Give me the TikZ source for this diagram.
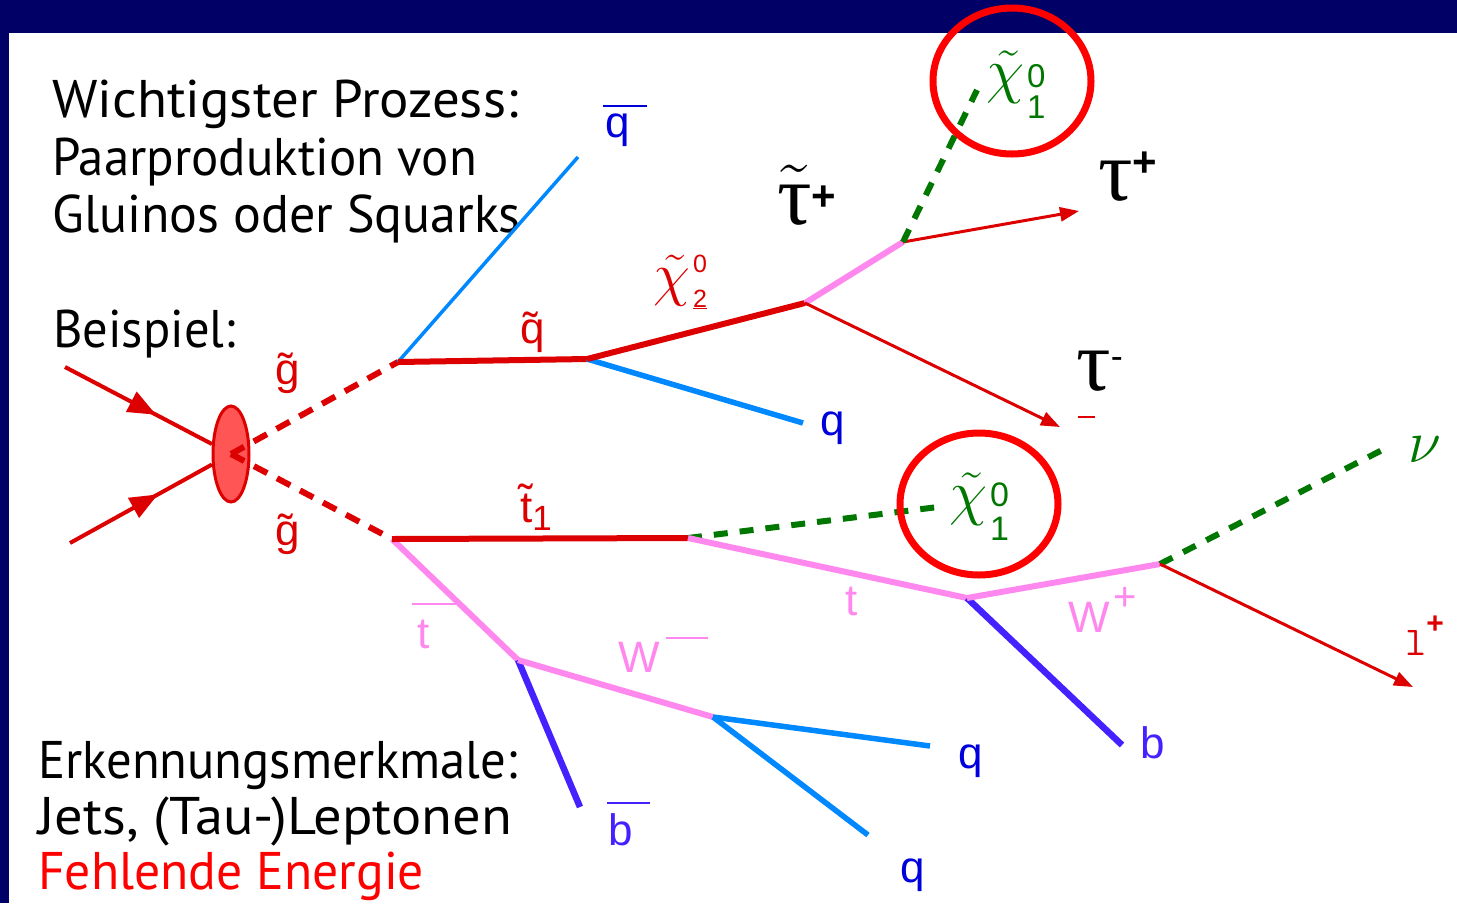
\documentclass[tikz,border=0pt]{standalone}
\usepackage{fix-cm}
\usepackage{graphicx}
\usepackage{fontspec}
\setmainfont{PT Sans}
\newfontfamily\lblfont{Liberation Sans}
\newfontfamily\grkfont{Liberation Serif}
\usetikzlibrary{positioning,arrows.meta,shapes.geometric,decorations.markings}

\definecolor{navy}{RGB}{0,0,102}
\definecolor{sred}{RGB}{221,0,0}
\definecolor{blobred}{RGB}{255,85,85}
\definecolor{jetblue}{RGB}{0,136,255}
\definecolor{bviolet}{RGB}{68,34,255}
\definecolor{lblblue}{RGB}{0,0,221}
\definecolor{spink}{RGB}{255,136,238}
\definecolor{sgreen}{RGB}{0,119,0}

% neutralino label: sup, sub, digit size, raise sup, raise sub
\newcommand{\neut}[5]{$\tilde{\chi}$\hspace{3pt}\makebox[0pt][l]{\raisebox{#4}{\fontsize{#3}{#3}\selectfont #1}}\raisebox{#5}{\fontsize{#3}{#3}\selectfont #2}}
% bar over a label: shift, raise, width
\newcommand{\barover}[3]{\makebox[0pt][l]{\hspace*{#1}\rule[#2]{#3}{2.5pt}}}
\newcommand{\sizedraise}[3]{\raisebox{#2}{\fontsize{#1}{#1}\selectfont #3}}

\begin{document}
\begin{tikzpicture}[x=1pt,y=-1pt,>=Triangle,
    sparton/.style={line width=6pt, draw=sred},
    thinarr/.style={line width=3pt, draw=sred, -{Triangle[length=19pt,width=14pt]}},
    incoming/.style={line width=4pt, draw=sred, postaction={decorate},
      decoration={markings, mark=at position 0.62 with {\arrow{Triangle[length=28pt,width=22pt]}}}},
    gluino/.style={line width=6pt, draw=sred, dash pattern=on 15pt off 11pt},
    invis/.style={line width=6pt, draw=sgreen, dash pattern=on 14pt off 12pt},
    jet/.style={line width=5.5pt, draw=jetblue},
    bjet/.style={line width=6.5pt, draw=bviolet},
    boson/.style={line width=6pt, draw=spink},
    lbl/.style={inner sep=0pt, anchor=base west, font=\fontsize{44}{44}\selectfont\lblfont},
    bigsym/.style={inner sep=0pt, anchor=base west, font=\fontsize{86}{86}\selectfont\grkfont},
    txt/.style={inner sep=0pt, anchor=base west, font=\fontsize{53}{58}\selectfont},
    ring/.style={ellipse, draw=red, line width=7pt, inner sep=0pt}]

    % frame
    \fill[navy] (0,0) rectangle (1457,903);
    \fill[white] (9,33) rectangle (1457,903);
    \useasboundingbox (0,0) rectangle (1457,903);

    % text
    \node[txt] (head1) at (52,117) {\scalebox{1.036}[1]{Wichtigster Prozess:}};
    \node[txt] (head2) at (52,175) {\scalebox{0.961}[1]{Paarproduktion von}};
    \node[txt] (head3) at (52,232) {\scalebox{0.981}[1]{Gluinos oder Squarks}};
    \node[txt] (ex) at (53,347) {\scalebox{0.953}[1]{Beispiel:}};
    \node[txt] (sig1) at (38,778) {\scalebox{0.956}[1]{Erkennungsmerkmale:}};
    \node[txt] (sig2) at (38,834) {\scalebox{1.065}[1]{Jets, (Tau-)Leptonen}};
    \node[txt, text=red] (sig3) at (38,889) {\scalebox{0.974}[1]{Fehlende Energie}};

    % vertices
    \coordinate (vsq) at (398,362);
    \coordinate (vchi) at (587,359);
    \coordinate (vstau) at (805,303);
    \coordinate (vtau) at (903,242);
    \coordinate (vst) at (392,539);
    \coordinate (vt) at (688,538);
    \coordinate (vtbar) at (518,660);
    \coordinate (vwm) at (713,717);
    \coordinate (vb) at (967,598);
    \coordinate (vwp) at (1160,564);
    % free ends
    \coordinate (pa) at (65,367);
    \coordinate (pb) at (70,543);
    \coordinate (eqbar) at (578,157);
    \coordinate (eq) at (803,423);
    \coordinate (etaup) at (1079,211);
    \coordinate (etaum) at (1060,427);
    \coordinate (elsp) at (977,90);
    \coordinate (elsp2) at (938,507);
    \coordinate (ebbar) at (580,807);
    \coordinate (eq1) at (930,746);
    \coordinate (eq2) at (868,835);
    \coordinate (eb) at (1122,745);
    \coordinate (enu) at (1390,446);
    \coordinate (elep) at (1413,687);

    % incoming protons and blob
    \node[ellipse, draw=sred, fill=blobred, line width=3pt, minimum width=36pt,
      minimum height=96pt, inner sep=0pt] (blob) at (231,454) {};
    \draw[incoming] (pa) -- (blob);
    \draw[incoming] (pb) -- (blob);
    \draw[gluino] (blob.center) -- (vsq);
    \draw[gluino] (blob.center) -- (vst);

    % upper branch
    \draw[line width=3.5pt, draw=jetblue] (vsq) -- (eqbar);
    \draw[sparton] (vsq) -- (vchi);
    \draw[jet] (vchi) -- (eq);
    \draw[sparton] (vchi) -- (vstau);
    \draw[boson] (vstau) -- (vtau);
    \draw[thinarr] (vstau) -- (etaum);
    \draw[thinarr] (vtau) -- (etaup);
    \draw[invis] (vtau) -- (elsp);

    % lower branch
    \draw[boson] (vst) -- (vtbar);
    \draw[sparton] (vst) -- (vt);
    \draw[bjet] (vtbar) -- (ebbar);
    \draw[boson] (vtbar) -- (vwm);
    \draw[jet] (vwm) -- (eq1);
    \draw[jet] (vwm) -- (eq2);
    \draw[invis] (vt) -- (elsp2);
    \draw[boson] (vt) -- (vb);
    \draw[bjet] (vb) -- (eb);
    \draw[boson] (vb) -- (vwp);
    \draw[invis] (vwp) -- (enu);
    \draw[thinarr] (vwp) -- (elep);

    % labels
    \node[lbl, text=sred] (lgl1) at (275,384) {\~{g}};
    \node[lbl, text=sred] (lgl2) at (275,545) {\~{g}};
    \node[lbl, text=lblblue] (lqbar) at (605,137) {\barover{-2pt}{30pt}{44pt}q};
    \node[lbl, text=sred] (lsq) at (520,343) {\~{q}};
    \node[lbl, text=sred, font=\fontsize{60}{60}\selectfont\lblfont] (lchi2) at (653,294)
      {\neut{0}{\underline{2}}{25}{22pt}{-13pt}};
    \node[bigsym] (lstau) at (777,224)
      {$\tilde{\mbox{τ}}$\sizedraise{42}{14pt}{\lblfont\bfseries +}};
    \node[bigsym] (ltaup) at (1098,200)
      {τ\sizedraise{42}{24pt}{\lblfont\bfseries +}};
    \node[bigsym] (ltaum) at (1076,390)
      {τ\sizedraise{36}{22pt}{\lblfont -}};
    \node[lbl, text=lblblue] (lq) at (820,435) {q};
    \node[lbl, text=sgreen, font=\fontsize{62}{62}\selectfont\lblfont] (llsp1) at (986,91)
      {\neut{0}{1}{33}{4pt}{-27pt}};
    \node[lbl, text=sgreen, font=\fontsize{62}{62}\selectfont\lblfont] (llsp2) at (949,513)
      {\neut{0}{1}{34}{7pt}{-27pt}};
    \node[lbl, text=sred] (lst) at (520,522) {\~{t}\sizedraise{35}{-8pt}{1}};
    \node[lbl, text=spink] (ltbar) at (417,648) {\barover{-5pt}{43pt}{45pt}t};
    \node[lbl, text=spink] (lt) at (845,615) {t};
    \node[lbl, text=spink] (lwm) at (618,672) {W\hspace{6pt}\rule[33pt]{42pt}{2.5pt}};
    \node[lbl, text=spink] (lwp) at (1068,632) {W\hspace{4pt}\sizedraise{40}{22pt}{+}};
    \node[lbl, text=bviolet] (lb) at (1140,758) {b};
    \node[lbl, text=lblblue] (lq1) at (958,768) {q};
    \node[lbl, text=lblblue] (lq2) at (900,882) {q};
    \node[lbl, text=bviolet] (lbbar) at (608,845) {\barover{-1pt}{41pt}{43pt}b};
    \node[lbl, text=sgreen, font=\fontsize{60}{60}\selectfont] (lnu) at (1408,462) {$\nu$};
    \node[lbl, text=sred, font=\fontsize{41}{41}\selectfont\ttfamily] (llep) at (1405,655)
      {l\sizedraise{30}{22pt}{\lblfont\bfseries +}};
    \draw[line width=2pt, draw=sred] (1078,417) -- (1095,417);

    % markers
    \node[ring, minimum width=158pt, minimum height=146pt] (ring1) at (1012,81) {};
    \node[ring, minimum width=158pt, minimum height=142pt] (ring2) at (979,504) {};
\end{tikzpicture}
\end{document}
